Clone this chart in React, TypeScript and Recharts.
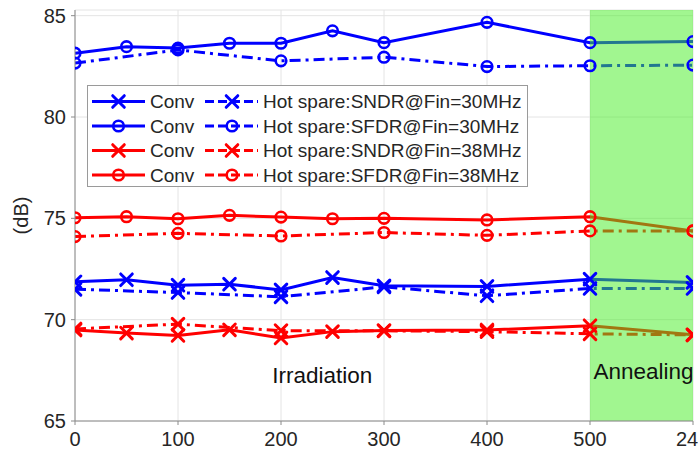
import React from 'react';
import {
  LineChart,
  Line,
  XAxis,
  YAxis,
  CartesianGrid,
  ReferenceArea,
  ReferenceDot,
  Legend,
} from 'recharts';

// ---------- data ----------
const convHours = [0, 50, 100, 150, 200, 250, 300, 400, 500, 600];
const hotHours = [0, 100, 200, 300, 400, 500, 600];

const xTicks = [0, 100, 200, 300, 400, 500, 600];
const xTickLabels = ['0', '100', '200', '300', '400', '500', '24'];
const yTicks = [65, 70, 75, 80, 85];

const convSndr30 = [71.87, 71.97, 71.7, 71.75, 71.47, 72.08, 71.67, 71.64, 72.0, 71.84];
const hotSndr30 = [71.5, 71.34, 71.13, 71.62, 71.18, 71.54, 71.54];
const convSfdr30 = [83.15, 83.47, 83.4, 83.64, 83.64, 84.25, 83.67, 84.67, 83.67, 83.72];
const hotSfdr30 = [82.66, 83.31, 82.77, 82.95, 82.49, 82.53, 82.56];
const convSndr38 = [69.49, 69.34, 69.22, 69.5, 69.1, 69.41, 69.46, 69.49, 69.7, 69.25];
const hotSndr38 = [69.54, 69.78, 69.46, 69.45, 69.41, 69.3, 69.25];
const convSfdr38 = [75.03, 75.08, 74.98, 75.15, 75.06, 74.98, 75.0, 74.92, 75.08, 74.38];
const hotSfdr38 = [74.1, 74.26, 74.13, 74.3, 74.16, 74.38, 74.38];

const legendLabels = [
  'Hot spare:SNDR@Fin=30MHz',
  'Hot spare:SFDR@Fin=30MHz',
  'Hot spare:SNDR@Fin=38MHz',
  'Hot spare:SFDR@Fin=38MHz',
];

// ---------- styles ----------
const FONT = '"Liberation Sans", Arial, Helvetica, sans-serif';
const BLUE = '#0000ff';
const RED = '#ff0000';
const DASHDOT = '11 5 3 5';
const TEXT = '#262626';
const AXIS = '#8a8a8a';

const toData = (xs: number[], ys: number[]) => xs.map((x, i) => ({ x, v: ys[i] }));

type Series = { id: string; data: { x: number; v: number }[]; color: string; marker: 'x' | 'o'; dashed: boolean };

const series: Series[] = [
  { id: 'convSndr38', data: toData(convHours, convSndr38), color: RED, marker: 'x', dashed: false },
  { id: 'hotSndr38', data: toData(hotHours, hotSndr38), color: RED, marker: 'x', dashed: true },
  { id: 'convSfdr38', data: toData(convHours, convSfdr38), color: RED, marker: 'o', dashed: false },
  { id: 'hotSfdr38', data: toData(hotHours, hotSfdr38), color: RED, marker: 'o', dashed: true },
  { id: 'convSndr30', data: toData(convHours, convSndr30), color: BLUE, marker: 'x', dashed: false },
  { id: 'hotSndr30', data: toData(hotHours, hotSndr30), color: BLUE, marker: 'x', dashed: true },
  { id: 'convSfdr30', data: toData(convHours, convSfdr30), color: BLUE, marker: 'o', dashed: false },
  { id: 'hotSfdr30', data: toData(hotHours, hotSfdr30), color: BLUE, marker: 'o', dashed: true },
];

const legendRows = [
  { color: BLUE, marker: 'x' as const, label: legendLabels[0] },
  { color: BLUE, marker: 'o' as const, label: legendLabels[1] },
  { color: RED, marker: 'x' as const, label: legendLabels[2] },
  { color: RED, marker: 'o' as const, label: legendLabels[3] },
];

// ---------- markers ----------
function Marker({ kind, cx, cy, color }: { kind: 'x' | 'o'; cx: number; cy: number; color: string }) {
  if (kind === 'x') {
    const s = 5.8;
    return (
      <path
        d={`M${cx - s},${cy - s}L${cx + s},${cy + s}M${cx - s},${cy + s}L${cx + s},${cy - s}`}
        stroke={color}
        strokeWidth={3}
        fill="none"
        strokeLinecap="round"
      />
    );
  }
  return <circle cx={cx} cy={cy} r={5.3} stroke={color} strokeWidth={2.6} fill="none" />;
}

const makeDot = (kind: 'x' | 'o', color: string) => (props: any) => {
  const { cx, cy, index } = props;
  if (cx == null || cy == null) return <g key={`d-${index}`} />;
  return (
    <g key={`d-${index}`}>
      <Marker kind={kind} cx={cx} cy={cy} color={color} />
    </g>
  );
};

// ---------- x tick (last label kept inside the frame) ----------
const XTick = (props: any) => {
  const { x, y, payload } = props;
  const idx = xTicks.indexOf(payload.value);
  const label = idx >= 0 ? xTickLabels[idx] : String(payload.value);
  const isLast = idx === xTicks.length - 1;
  return (
    <text
      x={isLast ? x - 6 : x}
      y={y}
      dy="0.71em"
      textAnchor="middle"
      fontFamily={FONT}
      fontSize={20}
      fill={TEXT}
    >
      {label}
    </text>
  );
};

// ---------- legend ----------
function LegendBox() {
  const W = 441;
  const H = 102;
  return (
    <svg width={W} height={H} style={{ display: 'block' }}>
      <rect x={0.5} y={0.5} width={W - 1} height={H - 1} fill="#ffffff" stroke="#9a9a9a" strokeWidth={1} />
      {legendRows.map((r, i) => {
        const cy = 16.5 + i * 24.5;
        return (
          <g key={i}>
            <line x1={5} x2={58} y1={cy} y2={cy} stroke={r.color} strokeWidth={3} />
            <Marker kind={r.marker} cx={31.5} cy={cy} color={r.color} />
            <text x={63} y={cy} dominantBaseline="central" fontFamily={FONT} fontSize={19} fill={TEXT}>
              Conv
            </text>
            <line x1={118} x2={171} y1={cy} y2={cy} stroke={r.color} strokeWidth={3} strokeDasharray="9 4" />
            <Marker kind={r.marker} cx={145} cy={cy} color={r.color} />
            <text x={176} y={cy} dominantBaseline="central" fontFamily={FONT} fontSize={19} fill={TEXT}>
              {r.label}
            </text>
          </g>
        );
      })}
    </svg>
  );
}

const YLabel = (props: any) => {
  const vb = props.viewBox || { x: 15, y: 10, width: 60, height: 411 };
  const x = vb.x + 6;
  const y = vb.y + vb.height / 2;
  return (
    <text
      x={x}
      y={y}
      transform={`rotate(-90 ${x} ${y})`}
      textAnchor="middle"
      dominantBaseline="central"
      fontFamily={FONT}
      fontSize={20}
      fill={TEXT}
    >
      (dB)
    </text>
  );
};

export default function App() {
  return (
    <div style={{ position: 'absolute', left: 0, top: 0, width: 698, height: 451, background: '#ffffff' }}>
      <LineChart width={698} height={451} margin={{ top: 10, right: 5, bottom: 0, left: 15 }}>
        <CartesianGrid stroke="#e4e4e4" strokeWidth={1} />
        <XAxis
          type="number"
          dataKey="x"
          domain={[0, 600]}
          ticks={xTicks}
          interval={0}
          allowDataOverflow
          height={30}
          tickSize={4}
          tickMargin={7}
          stroke={AXIS}
          tick={<XTick />}
        />
        <YAxis
          type="number"
          domain={[65, 85.28]}
          ticks={yTicks}
          interval={0}
          allowDataOverflow
          width={60}
          tickSize={4}
          tickMargin={5}
          stroke={AXIS}
          tick={{ fontSize: 20, fill: TEXT, fontFamily: FONT }}
          label={<YLabel />}
        />
        {series.map((s) => (
          <Line
            key={s.id}
            data={s.data}
            dataKey="v"
            type="linear"
            stroke={s.color}
            strokeWidth={3}
            strokeDasharray={s.dashed ? DASHDOT : undefined}
            dot={makeDot(s.marker, s.color)}
            activeDot={false}
            isAnimationActive={false}
            legendType="none"
          />
        ))}
        <ReferenceArea x1={500} x2={600} fill="#44ee22" fillOpacity={0.5} stroke="none" zIndex={450} />
        <ReferenceDot
          x={240}
          y={67.28}
          r={0}
          fill="none"
          stroke="none"
          label={{ value: 'Irradiation', position: 'center', fontSize: 22.5, fill: '#111111', fontFamily: FONT }}
        />
        <ReferenceDot
          x={552}
          y={67.48}
          r={0}
          fill="none"
          stroke="none"
          label={{ value: 'Annealing', position: 'center', fontSize: 22.5, fill: '#111111', fontFamily: FONT }}
        />
        <Legend
          content={<LegendBox />}
          layout="horizontal"
          verticalAlign="middle"
          align="center"
          wrapperStyle={{ left: 87, top: 85, width: 441, height: 102 }}
        />
      </LineChart>
    </div>
  );
}
